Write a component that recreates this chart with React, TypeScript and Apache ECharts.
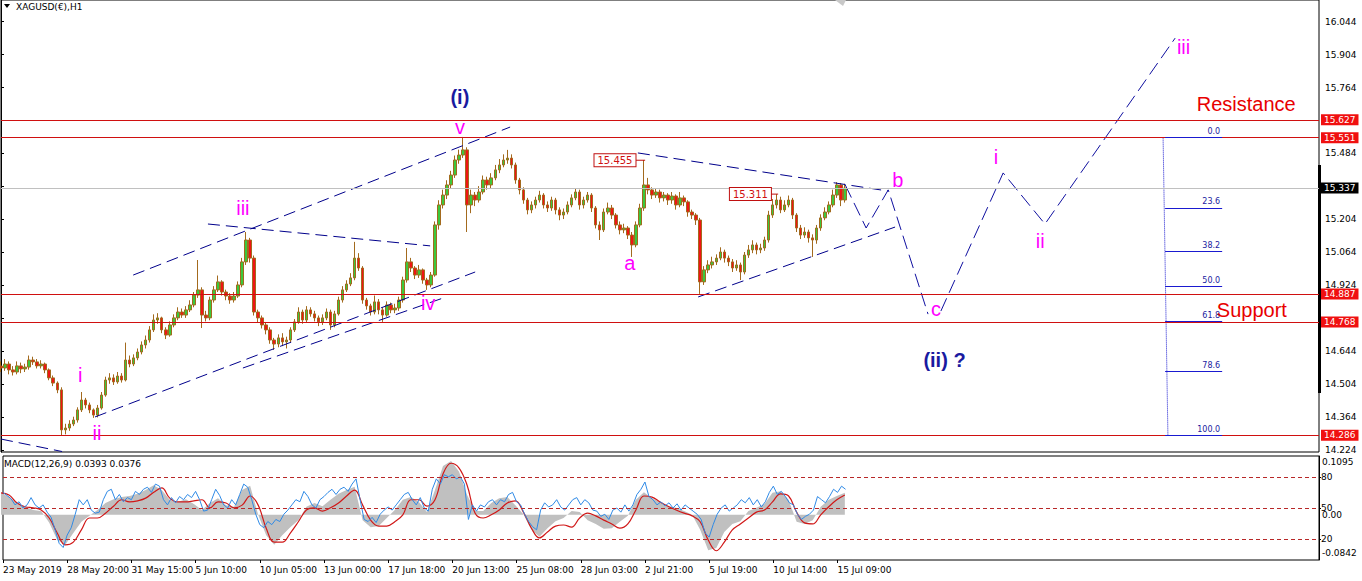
import React, { useEffect, useRef } from "react";
import * as echarts from "echarts";

// ---------- axes / ticks ----------
const CATEGORY_COUNT = 329; // hourly groups incl. projection area
const LABEL_STEP = 16;
const timeLabels = [
  "23 May 2019", "28 May 20:00", "31 May 15:00", "5 Jun 10:00", "10 Jun 05:00",
  "13 Jun 00:00", "17 Jun 18:00", "20 Jun 13:00", "25 Jun 08:00", "28 Jun 03:00",
  "2 Jul 21:00", "5 Jul 19:00", "10 Jul 14:00", "15 Jul 09:00",
];
const priceTicks = [14.224, 14.364, 14.504, 14.644, 14.784, 14.924, 15.064, 15.204, 15.344, 15.484, 15.624, 15.764, 15.904, 16.044];
// tick labels left visible (the others sit under the level tags)
const priceTickLabels = [14.224, 14.364, 14.504, 14.644, 14.924, 15.064, 15.204, 15.484, 15.764, 15.904, 16.044];
const priceMin = 14.215;
const priceMax = 16.136;
const macdMin = -0.0842;
const macdMax = 0.1095;
const macdTickValues = [0.0983, 0, -0.0712];
const macdTickText = ["0.1095", "0.00", "-0.0842"];
const oscLevels = [20, 50, 80];

// ---------- price data (XAGUSD H1, grouped) ----------
const firstOpen = 14.58;
const closes = [
  14.572, 14.589, 14.564, 14.555, 14.581, 14.568, 14.576, 14.606, 14.598, 14.581,
  14.589, 14.564, 14.530, 14.508, 14.479, 14.309, 14.317, 14.334, 14.351, 14.394,
  14.436, 14.415, 14.394, 14.372, 14.402, 14.457, 14.521, 14.530, 14.513, 14.538,
  14.521, 14.606, 14.589, 14.615, 14.640, 14.670, 14.691, 14.734, 14.776, 14.785,
  14.734, 14.712, 14.755, 14.785, 14.810, 14.797, 14.819, 14.840, 14.882, 14.904,
  14.797, 14.785, 14.861, 14.904, 14.938, 14.895, 14.878, 14.861, 14.878, 14.925,
  15.023, 15.116, 15.039, 14.810, 14.785, 14.755, 14.734, 14.691, 14.674, 14.700,
  14.683, 14.691, 14.734, 14.768, 14.810, 14.776, 14.819, 14.802, 14.785, 14.768,
  14.785, 14.810, 14.755, 14.802, 14.861, 14.904, 14.929, 14.955, 15.039, 14.997,
  14.861, 14.836, 14.810, 14.853, 14.819, 14.797, 14.840, 14.819, 14.827, 14.861,
  14.946, 15.023, 14.997, 14.967, 14.989, 14.946, 14.925, 14.967, 15.180, 15.265,
  15.307, 15.350, 15.392, 15.456, 15.477, 15.499, 15.265, 15.307, 15.286, 15.320,
  15.371, 15.350, 15.380, 15.414, 15.435, 15.456, 15.464, 15.435, 15.371, 15.329,
  15.286, 15.244, 15.265, 15.286, 15.307, 15.265, 15.252, 15.286, 15.244, 15.222,
  15.235, 15.265, 15.295, 15.320, 15.265, 15.286, 15.307, 15.252, 15.180, 15.159,
  15.235, 15.252, 15.222, 15.180, 15.159, 15.167, 15.137, 15.095, 15.180, 15.252,
  15.350, 15.329, 15.307, 15.320, 15.295, 15.307, 15.286, 15.303, 15.265, 15.295,
  15.278, 15.235, 15.222, 15.201, 14.938, 14.989, 15.010, 15.023, 15.039, 15.065,
  15.039, 15.023, 14.997, 15.010, 14.980, 15.052, 15.074, 15.095, 15.074, 15.082,
  15.116, 15.222, 15.265, 15.286, 15.244, 15.265, 15.286, 15.222, 15.167, 15.137,
  15.150, 15.125, 15.116, 15.167, 15.210, 15.235, 15.265, 15.307, 15.350, 15.286,
  15.337,
];
const highs = [
  14.600, 14.610, 14.600, 14.580, 14.600, 14.595, 14.590, 14.625, 14.620, 14.610,
  14.605, 14.595, 14.570, 14.540, 14.515, 14.490, 14.335, 14.350, 14.365, 14.405,
  14.470, 14.445, 14.425, 14.400, 14.415, 14.470, 14.535, 14.550, 14.545, 14.555,
  14.550, 14.680, 14.625, 14.630, 14.655, 14.685, 14.710, 14.750, 14.800, 14.805,
  14.790, 14.745, 14.770, 14.800, 14.830, 14.825, 14.835, 14.860, 14.895, 15.031,
  14.915, 14.815, 14.875, 14.920, 14.965, 14.945, 14.905, 14.890, 14.895, 14.940,
  15.040, 15.150, 15.125, 15.050, 14.820, 14.795, 14.765, 14.745, 14.700, 14.715,
  14.720, 14.705, 14.745, 14.780, 14.830, 14.820, 14.835, 14.830, 14.815, 14.795,
  14.800, 14.825, 14.820, 14.815, 14.875, 14.920, 14.945, 14.975, 15.108, 15.060,
  15.005, 14.870, 14.845, 14.880, 14.865, 14.830, 14.855, 14.850, 14.845, 14.875,
  14.960, 15.082, 15.040, 15.005, 15.010, 14.995, 14.955, 14.980, 15.195, 15.285,
  15.330, 15.370, 15.410, 15.475, 15.500, 15.554, 15.510, 15.330, 15.320, 15.345,
  15.390, 15.385, 15.400, 15.435, 15.460, 15.480, 15.499, 15.480, 15.445, 15.380,
  15.340, 15.295, 15.280, 15.300, 15.325, 15.315, 15.280, 15.300, 15.295, 15.255,
  15.250, 15.280, 15.310, 15.335, 15.330, 15.300, 15.320, 15.315, 15.260, 15.195,
  15.250, 15.275, 15.265, 15.230, 15.195, 15.185, 15.175, 15.150, 15.195, 15.270,
  15.456, 15.380, 15.340, 15.335, 15.330, 15.320, 15.315, 15.320, 15.310, 15.320,
  15.305, 15.285, 15.245, 15.230, 15.210, 15.005, 15.030, 15.045, 15.055, 15.085,
  15.075, 15.050, 15.035, 15.030, 15.020, 15.065, 15.095, 15.115, 15.105, 15.100,
  15.130, 15.240, 15.290, 15.311, 15.300, 15.285, 15.305, 15.295, 15.230, 15.180,
  15.170, 15.160, 15.140, 15.180, 15.225, 15.255, 15.280, 15.330, 15.362, 15.358,
  15.355,
];
const lows = [
  14.555, 14.560, 14.545, 14.540, 14.545, 14.550, 14.555, 14.565, 14.585, 14.570,
  14.570, 14.550, 14.520, 14.495, 14.465, 14.283, 14.290, 14.305, 14.325, 14.340,
  14.385, 14.400, 14.380, 14.360, 14.362, 14.395, 14.450, 14.505, 14.500, 14.505,
  14.510, 14.515, 14.575, 14.580, 14.605, 14.630, 14.655, 14.680, 14.725, 14.760,
  14.720, 14.695, 14.705, 14.745, 14.775, 14.785, 14.785, 14.810, 14.830, 14.870,
  14.742, 14.770, 14.775, 14.850, 14.895, 14.880, 14.860, 14.845, 14.850, 14.870,
  14.915, 15.010, 15.020, 14.795, 14.765, 14.740, 14.715, 14.675, 14.649, 14.660,
  14.665, 14.655, 14.680, 14.725, 14.760, 14.760, 14.765, 14.790, 14.770, 14.750,
  14.755, 14.775, 14.734, 14.745, 14.795, 14.850, 14.895, 14.920, 14.945, 14.985,
  14.845, 14.820, 14.795, 14.800, 14.800, 14.768, 14.790, 14.805, 14.805, 14.815,
  14.850, 14.935, 14.980, 14.950, 14.955, 14.930, 14.904, 14.915, 14.960, 15.160,
  15.250, 15.290, 15.335, 15.380, 15.440, 15.465, 15.150, 15.230, 15.260, 15.275,
  15.310, 15.330, 15.335, 15.370, 15.400, 15.425, 15.440, 15.420, 15.355, 15.310,
  15.270, 15.225, 15.230, 15.250, 15.275, 15.250, 15.235, 15.240, 15.225, 15.200,
  15.205, 15.225, 15.255, 15.285, 15.245, 15.250, 15.275, 15.235, 15.165, 15.116,
  15.150, 15.225, 15.205, 15.165, 15.140, 15.145, 15.120, 15.044, 15.085, 15.170,
  15.240, 15.310, 15.290, 15.295, 15.275, 15.280, 15.265, 15.270, 15.245, 15.255,
  15.260, 15.215, 15.205, 15.180, 14.887, 14.925, 14.975, 14.995, 15.010, 15.030,
  15.020, 15.005, 14.980, 14.985, 14.946, 14.970, 15.040, 15.060, 15.055, 15.060,
  15.070, 15.105, 15.210, 15.250, 15.230, 15.235, 15.255, 15.205, 15.150, 15.120,
  15.125, 15.105, 15.044, 15.100, 15.155, 15.200, 15.225, 15.255, 15.295, 15.260,
  15.275,
];

// ---------- horizontal levels ----------
const redLevels = [15.627, 15.551, 14.887, 14.768, 14.286];
const bidPrice = 15.337;

// ---------- MACD panel (sampled every 2 groups) ----------
const macdStep = 2;
const macdHist = [
  0.041, 0.033, 0.022, 0.015, 0.009, 0.007, -0.015, -0.047, -0.056, -0.034,
  -0.013, -0.002, 0.009, 0.022, 0.029, 0.033, 0.035, 0.039, 0.046, 0.055,
  0.046, 0.028, 0.024, 0.029, 0.020, 0.009, 0.022, 0.031, 0.018, 0.015,
  0.046, 0.054, 0.000, -0.038, -0.056, -0.038, -0.023, -0.010, 0.015, 0.022,
  0.016, 0.028, 0.039, 0.046, 0.052, -0.010, -0.023, -0.021, -0.006, 0.009,
  0.028, 0.033, 0.024, 0.005, 0.046, 0.091, 0.100, 0.080, 0.037, 0.007,
  0.007, 0.022, 0.031, 0.033, 0.018, 0.001, -0.028, -0.041, -0.025, -0.012,
  -0.006, 0.007, 0.005, -0.010, -0.017, -0.026, -0.025, -0.013, -0.002, 0.028,
  0.042, 0.031, 0.024, 0.016, 0.013, 0.007, 0.000, -0.028, -0.066, -0.062,
  -0.032, -0.017, -0.012, 0.007, 0.013, 0.020, 0.041, 0.044, 0.028, -0.013,
  -0.017, -0.010, 0.015, 0.028, 0.035, 0.041,
];
const macdSignal = [
  0.041, 0.037, 0.022, 0.015, 0.013, 0.009, -0.006, -0.034, -0.056, -0.051,
  -0.028, -0.006, -0.006, 0.003, 0.016, 0.028, 0.024, 0.026, 0.031, 0.042,
  0.050, 0.031, 0.024, 0.024, 0.026, 0.028, 0.013, 0.024, 0.022, 0.013,
  0.018, 0.035, 0.018, -0.025, -0.051, -0.051, -0.034, -0.013, 0.009, 0.013,
  0.007, 0.013, 0.022, 0.035, 0.046, 0.018, -0.010, -0.021, -0.021, -0.013,
  0.000, 0.028, 0.028, 0.016, 0.028, 0.076, 0.096, 0.087, 0.055, 0.003,
  -0.006, 0.000, 0.009, 0.022, 0.026, 0.005, -0.025, -0.043, -0.032, -0.021,
  -0.019, -0.023, -0.006, 0.003, -0.002, -0.010, -0.017, -0.025, -0.017, 0.009,
  0.035, 0.033, 0.024, 0.016, 0.009, 0.003, -0.002, -0.013, -0.047, -0.067,
  -0.051, -0.028, -0.017, -0.006, 0.005, 0.009, 0.024, 0.039, 0.035, 0.005,
  -0.015, -0.017, 0.000, 0.015, 0.028, 0.037,
];
// oscillator drawn in the same window (0-100 scale)
const oscLine = [
  65, 62, 59, 53, 56, 50, 53, 60, 53, 50,
  53, 46, 41, 29, 16, 12, 24, 31, 44, 58,
  53, 58, 48, 45, 46, 58, 66, 68, 58, 63,
  56, 60, 58, 66, 63, 68, 70, 65, 73, 71,
  58, 53, 60, 55, 61, 58, 63, 60, 66, 58,
  47, 48, 58, 68, 62, 53, 50, 58, 53, 63,
  73, 70, 58, 44, 34, 31, 37, 34, 39, 37,
  44, 48, 53, 58, 56, 66, 61, 53, 50, 58,
  61, 65, 68, 63, 68, 70, 66, 73, 78, 58,
  39, 37, 41, 36, 44, 48, 51, 48, 53, 58,
  63, 65, 58, 53, 60, 50, 47, 68, 78, 73,
  82, 80, 82, 78, 80, 73, 39, 53, 47, 53,
  51, 56, 58, 53, 58, 56, 63, 65, 56, 53,
  44, 37, 32, 29, 48, 55, 51, 53, 58, 51,
  48, 53, 58, 60, 53, 58, 55, 48, 47, 42,
  44, 39, 48, 50, 46, 53, 47, 53, 63, 68,
  75, 61, 58, 53, 56, 52, 55, 50, 54, 48,
  53, 50, 47, 44, 39, 26, 22, 34, 44, 50,
  53, 47, 50, 53, 58, 55, 60, 53, 58, 51,
  56, 65, 71, 63, 66, 61, 55, 53, 44, 39,
  42, 44, 48, 61, 58, 55, 61, 68, 65, 71,
  68,
];

// ---------- drawn objects (x = group index, y = price) ----------
const trendLines = [
  [[0, 14.270], [15.2, 14.217]],
  [[23.4, 14.364], [118.0, 14.980]],
  [[32.9, 14.967], [126.7, 15.596]],
  [[60.2, 14.572], [110.8, 14.874]],
  [[51.5, 15.184], [106.8, 15.091]],
  [[158.5, 15.486], [220.8, 15.324]],
  [[173.5, 14.874], [222.5, 15.171]],
];
const waveDown = [[210.1, 15.350], [215.3, 15.167], [220.8, 15.329], [230.7, 14.801]];
const waveUp = [[233.9, 14.814], [249.4, 15.401], [259.8, 15.184], [292.2, 15.974]];
const fibTop = 15.551;
const fibBottom = 14.286;
const fibRatios = [0, 23.6, 38.2, 50, 61.8, 78.6, 100];
const fibAnchor = [[289.2, 15.551], [290.4, 14.286]];
const fibSpan = [289.7, 303.9];

const waveLabels = [
  { text: "(i)", x: 114.2, y: 15.724, kind: "major" },
  { text: "v", x: 114.2, y: 15.596, kind: "minor" },
  { text: "iii", x: 60.2, y: 15.252, kind: "minor" },
  { text: "iv", x: 106.3, y: 14.848, kind: "minor" },
  { text: "i", x: 19.7, y: 14.542, kind: "minor" },
  { text: "ii", x: 23.9, y: 14.296, kind: "minor" },
  { text: "a", x: 156.5, y: 15.018, kind: "minor" },
  { text: "b", x: 223.2, y: 15.371, kind: "minor" },
  { text: "c", x: 232.7, y: 14.823, kind: "minor" },
  { text: "(ii) ?", x: 234.8, y: 14.606, kind: "major" },
  { text: "i", x: 247.6, y: 15.469, kind: "minor" },
  { text: "ii", x: 258.6, y: 15.112, kind: "minor" },
  { text: "iii", x: 294.3, y: 15.936, kind: "minor" },
  { text: "Resistance", x: 309.9, y: 15.694, kind: "zone" },
  { text: "Support", x: 311.3, y: 14.819, kind: "zone" },
];
const priceTags = [
  { text: "15.455", x: 152.8, y: 15.455, link: [157.3, 160.3] },
  { text: "15.311", x: 186.5, y: 15.311, link: [190.9, 193.4] },
];

const FONT = "DejaVu Sans";
const NAVY = "#00008b";

export default function App() {
  const ref = useRef<HTMLDivElement>(null);
  useEffect(() => {
    if (!ref.current) return;
    const chart = echarts.init(ref.current, null, { renderer: "svg" });
    const lastIdx = CATEGORY_COUNT - 1;
    const cats = Array.from({ length: CATEGORY_COUNT }, (_, i) => String(i));
    const candles = closes.map((c, i) => [i === 0 ? firstOpen : closes[i - 1], c, lows[i], highs[i]]);
    const labelStyles: Record<string, any> = {
      minor: { color: "#ff00ff", fontSize: 20, fontFamily: "Liberation Sans" },
      major: { color: "#1a1aa0", fontSize: 20, fontWeight: "bold", fontFamily: "Liberation Sans" },
      zone: { color: "#e80000", fontSize: 20, fontFamily: "Liberation Sans" },
    };
    const small = { fontSize: 9, fontFamily: FONT, color: "#000" };
    const hiddenDot = { color: "rgba(0,0,0,0)", opacity: 1 };

    const series: any[] = [];
    series.push({
      type: "candlestick",
      xAxisIndex: 0,
      yAxisIndex: 0,
      data: candles,
      barWidth: 3,
      itemStyle: { color: "#3cc83c", color0: "#f01414", borderColor: "#a36a1e", borderColor0: "#a36a1e", borderWidth: 1 },
      markLine: {
        symbol: ["none", "none"],
        silent: true,
        precision: 3,
        label: { position: "end", distance: 2, formatter: (p: any) => Number(p.value).toFixed(3), color: "#fff", fontSize: 9, fontFamily: FONT, padding: [1, 3, 1, 3] },
        data: [
          ...redLevels.map((v) => ({ yAxis: v, lineStyle: { color: "#d01010", width: 1, type: "solid" }, label: { backgroundColor: "#f01010" } })),
          { yAxis: bidPrice, lineStyle: { color: "#c0c0c0", width: 1, type: "solid" }, label: { backgroundColor: "#000" } },
        ],
      },
    });
    trendLines.forEach((seg) => {
      series.push({ type: "line", xAxisIndex: 1, yAxisIndex: 0, data: seg, symbol: "none", silent: true, lineStyle: { color: NAVY, width: 1, type: [12, 6] }, z: 4 });
    });
    [waveDown, waveUp].forEach((path) => {
      series.push({ type: "line", xAxisIndex: 1, yAxisIndex: 0, data: path, symbol: "none", silent: true, lineStyle: { color: "#1010a0", width: 1, type: [14, 6] }, z: 4 });
    });
    series.push({
      type: "line",
      xAxisIndex: 1,
      yAxisIndex: 0,
      data: fibAnchor,
      symbol: "none",
      silent: true,
      lineStyle: { color: "#1a1ad0", width: 1, type: "dotted" },
      z: 4,
      markLine: {
        symbol: ["none", "none"],
        silent: true,
        precision: 3,
        lineStyle: { color: "#1a1ad0", width: 1, type: "solid" },
        label: { position: "insideEndTop", formatter: "{b}", color: "#1a1aa0", fontSize: 8, fontFamily: FONT, distance: 2 },
        data: fibRatios.map((r) => {
          const p = fibTop - ((fibTop - fibBottom) * r) / 100;
          return [{ coord: [fibSpan[0], p], name: r.toFixed(1) }, { coord: [fibSpan[1], p] }];
        }),
      },
    });
    priceTags.forEach((t) => {
      series.push({ type: "line", xAxisIndex: 1, yAxisIndex: 0, data: [[t.link[0], t.y], [t.link[1], t.y]], symbol: "none", silent: true, lineStyle: { color: "#c01010", width: 1 }, z: 4 });
    });
    series.push({
      type: "scatter",
      xAxisIndex: 1,
      yAxisIndex: 0,
      symbolSize: 1,
      silent: true,
      itemStyle: hiddenDot,
      z: 6,
      data: priceTags.map((t) => ({
        name: t.text,
        value: [t.x, t.y],
        label: { show: true, position: "inside", formatter: "{b}", color: "#d01010", fontSize: 10, fontFamily: FONT, backgroundColor: "#fff", borderColor: "#c01010", borderWidth: 1, padding: [1, 3, 1, 3], textBorderWidth: 0 },
      })),
    });
    series.push({
      type: "scatter",
      xAxisIndex: 1,
      yAxisIndex: 0,
      symbolSize: 1,
      silent: true,
      itemStyle: hiddenDot,
      z: 6,
      data: waveLabels.map((l) => ({ name: l.text, value: [l.x, l.y], label: { show: true, position: "inside", formatter: "{b}", textBorderWidth: 0, ...labelStyles[l.kind] } })),
    });
    // MACD window
    series.push({
      type: "line",
      xAxisIndex: 3,
      yAxisIndex: 2,
      data: macdHist.map((v, k) => [k * macdStep, v]),
      symbol: "none",
      silent: true,
      lineStyle: { width: 0 },
      areaStyle: { color: "#c0c0c0", opacity: 1 },
    });
    series.push({
      type: "line",
      xAxisIndex: 3,
      yAxisIndex: 2,
      data: macdSignal.map((v, k) => [k * macdStep, v]),
      symbol: "none",
      silent: true,
      smooth: 0.4,
      lineStyle: { color: "#d01818", width: 1.2 },
    });
    series.push({
      type: "line",
      xAxisIndex: 2,
      yAxisIndex: 1,
      data: oscLine,
      symbol: "none",
      silent: true,
      lineStyle: { color: "#2f8ae6", width: 1 },
      markLine: {
        symbol: ["none", "none"],
        silent: true,
        label: { show: false },
        lineStyle: { color: "#b82828", width: 1, type: [4, 3] },
        data: oscLevels.map((v) => ({ yAxis: v })),
      },
    });

    const option: any = {
      animation: false,
      backgroundColor: "#fff",
      title: [
        { text: "XAGUSD(€),H1", left: 16, top: 2, padding: 0, textStyle: { ...small, fontWeight: "normal" } },
        { text: "MACD(12,26,9) 0.0393 0.0376", left: 4, top: 459, padding: 0, textStyle: { ...small, fontWeight: "normal" } },
      ],
      grid: [
        { left: 1, top: 0, width: 1318, height: 452, show: true, borderColor: "#000", borderWidth: 1, backgroundColor: "#fff" },
        { left: 1, top: 456, width: 1318, height: 104, show: true, borderColor: "#000", borderWidth: 1 },
        { left: 1, top: 456, width: 1318, height: 104, show: false },
      ],
      xAxis: [
        { type: "category", gridIndex: 0, data: cats, boundaryGap: false, show: false },
        { type: "value", gridIndex: 0, min: 0, max: lastIdx, show: false },
        {
          type: "category",
          gridIndex: 1,
          data: cats,
          boundaryGap: false,
          axisLine: { show: false },
          splitLine: { show: false },
          axisTick: { show: true, length: 3, interval: (i: number) => i % LABEL_STEP === 0 && i / LABEL_STEP < timeLabels.length, lineStyle: { color: "#000" } },
          axisLabel: {
            interval: (i: number) => i % LABEL_STEP === 0 && i / LABEL_STEP < timeLabels.length,
            formatter: (_v: string, i: number) => timeLabels[i / LABEL_STEP] ?? "",
            align: "left",
            margin: 5,
            ...small,
          },
        },
        { type: "value", gridIndex: 2, min: 0, max: lastIdx, show: false },
      ],
      yAxis: [
        {
          type: "value",
          gridIndex: 0,
          position: "right",
          min: priceMin,
          max: priceMax,
          splitLine: { show: false },
          axisLine: { show: true, lineStyle: { color: "#000" } },
          axisTick: { show: true, length: 3, customValues: priceTicks, lineStyle: { color: "#000" } },
          axisLabel: { customValues: priceTickLabels, formatter: (v: number) => v.toFixed(3), margin: 6, ...small },
        },
        {
          type: "value",
          gridIndex: 1,
          position: "right",
          min: 0,
          max: 100,
          splitLine: { show: false },
          axisLine: { show: true, lineStyle: { color: "#000" } },
          axisTick: { show: true, length: 2, customValues: oscLevels, lineStyle: { color: "#000" } },
          axisLabel: { customValues: oscLevels, formatter: (v: number) => String(v), margin: 2, ...small },
        },
        {
          type: "value",
          gridIndex: 2,
          position: "right",
          min: macdMin,
          max: macdMax,
          splitLine: { show: false },
          axisLine: { show: false },
          axisTick: { show: false },
          axisLabel: {
            customValues: macdTickValues,
            formatter: (v: number) => {
              let best = 0;
              macdTickValues.forEach((t, k) => { if (Math.abs(t - v) < Math.abs(macdTickValues[best] - v)) best = k; });
              return macdTickText[best];
            },
            margin: 3,
            ...small,
          },
        },
      ],
      graphic: [
        { type: "polygon", shape: { points: [[4, 4], [10, 4], [7, 8]] }, style: { fill: "#000" }, silent: true },
        { type: "polygon", shape: { points: [[835, 0], [846, 0], [843, 6]] }, style: { fill: "#c8c8c8" }, silent: true },
        { type: "rect", shape: { x: 1318, y: 165, width: 3, height: 228 }, style: { fill: "#000" }, silent: true },
      ],
      series,
    };
    chart.setOption(option);
    return () => chart.dispose();
  }, []);
  return <div ref={ref} style={{ position: "fixed", left: 0, top: 0, width: 1362, height: 581, background: "#fff" }} />;
}
